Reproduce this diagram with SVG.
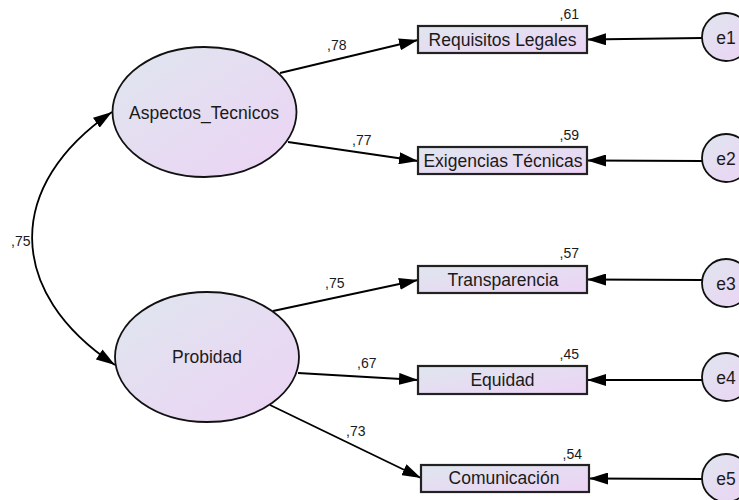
<svg xmlns="http://www.w3.org/2000/svg" width="739" height="500" viewBox="0 0 739 500">
<defs>
<linearGradient id="g" x1="0" y1="0" x2="1" y2="1">
<stop offset="0" stop-color="#dfe6ee"/>
<stop offset="1" stop-color="#ecd3f5"/>
</linearGradient>
<marker id="arr" markerUnits="userSpaceOnUse" markerWidth="20" markerHeight="12" refX="19" refY="6" orient="auto-start-reverse">
<path d="M0,0 L19,6 L0,12 z" fill="#000"/>
</marker>
</defs>
<style>
.lat{fill:url(#g);stroke:#111;stroke-width:1.8}
.obs{fill:url(#g);stroke:#222;stroke-width:2.2}
.err{fill:url(#g);stroke:#111;stroke-width:1.8}
.big{font-family:"Liberation Sans",Arial,sans-serif;font-size:17.5px;fill:#1a1a1a;text-anchor:middle}
.sm{font-family:"Liberation Sans",Arial,sans-serif;font-size:14px;fill:#1a1a1a}
.end{text-anchor:end}
.c{fill:none;stroke:#000;stroke-width:1.8;marker-end:url(#arr)}
</style>
<g id="connectors">
<path class="c" style="marker-start:url(#arr)" d="M112,112 C5,185 5,292 115,365"/>
<line class="c" x1="280" y1="73" x2="418" y2="40"/>
<line class="c" x1="288" y1="142" x2="418" y2="161"/>
<line class="c" x1="273" y1="311" x2="418" y2="280"/>
<line class="c" x1="298" y1="373" x2="418" y2="380"/>
<line class="c" x1="270" y1="405" x2="421" y2="478"/>
<line class="c" x1="702" y1="38" x2="587" y2="39.5"/>
<line class="c" x1="702" y1="161" x2="587" y2="160.5"/>
<line class="c" x1="702" y1="280" x2="587" y2="279.5"/>
<line class="c" x1="702" y1="380" x2="587" y2="380"/>
<line class="c" x1="702" y1="479" x2="589" y2="478.5"/>
<text class="sm" x="11" y="246">,75</text>
<text class="sm" x="327" y="50">,78</text>
<text class="sm" x="352" y="145">,77</text>
<text class="sm" x="325" y="288">,75</text>
<text class="sm" x="357" y="368">,67</text>
<text class="sm" x="346" y="436">,73</text>
</g>
<g id="Aspectos_Tecnicos">
<ellipse class="lat" cx="204.5" cy="112" rx="92" ry="65"/>
<text class="big" x="204" y="119">Aspectos_Tecnicos</text>
</g>
<g id="Probidad">
<ellipse class="lat" cx="207" cy="357" rx="92" ry="65"/>
<text class="big" x="207" y="363">Probidad</text>
</g>
<g id="Requisitos_Legales">
<rect class="obs" x="418" y="26" width="169" height="27"/>
<text class="big" x="502.5" y="46">Requisitos Legales</text>
<text class="sm end" x="579" y="19">,61</text>
</g>
<g id="Exigencias_Tecnicas">
<rect class="obs" x="418" y="147" width="169" height="27"/>
<text class="big" x="503" y="167">Exigencias Técnicas</text>
<text class="sm end" x="579" y="140">,59</text>
</g>
<g id="Transparencia">
<rect class="obs" x="418" y="266" width="169" height="27"/>
<text class="big" x="503" y="286">Transparencia</text>
<text class="sm end" x="579" y="258">,57</text>
</g>
<g id="Equidad">
<rect class="obs" x="418" y="366" width="169" height="28"/>
<text class="big" x="502.5" y="386">Equidad</text>
<text class="sm end" x="579" y="359">,45</text>
</g>
<g id="Comunicacion">
<rect class="obs" x="421" y="465" width="168" height="27"/>
<text class="big" x="504" y="484">Comunicación</text>
<text class="sm end" x="582" y="459">,54</text>
</g>
<g id="e1">
<circle class="err" cx="726" cy="37" r="24"/>
<text class="big" x="726" y="44">e1</text>
</g>
<g id="e2">
<circle class="err" cx="726" cy="158" r="24"/>
<text class="big" x="726" y="165">e2</text>
</g>
<g id="e3">
<circle class="err" cx="726" cy="283" r="24"/>
<text class="big" x="726" y="290">e3</text>
</g>
<g id="e4">
<circle class="err" cx="726" cy="377" r="24"/>
<text class="big" x="726" y="384">e4</text>
</g>
<g id="e5">
<circle class="err" cx="726" cy="478" r="24"/>
<text class="big" x="726" y="485">e5</text>
</g>
</svg>
